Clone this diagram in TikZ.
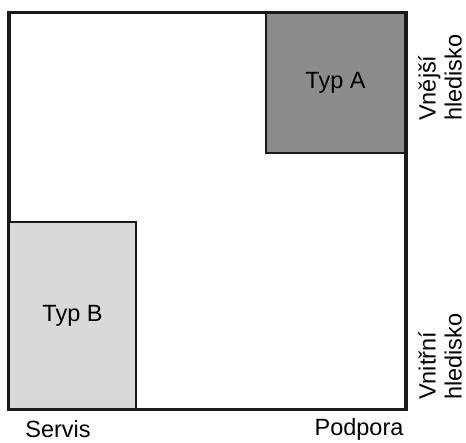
\documentclass[tikz,border=0pt]{standalone}
\usepackage{fontspec}
\setmainfont{Liberation Sans}
\usepackage{xcolor}
\usetikzlibrary{positioning}
\definecolor{typAgrey}{HTML}{8C8C8C}
\definecolor{typBgrey}{HTML}{D9D9D9}
\definecolor{frameline}{HTML}{1A1A1A}

\begin{document}
\begin{tikzpicture}[x=1pt, y=-1pt,
    every node/.style={font=\fontsize{23.5}{26}\selectfont, inner sep=0pt},
    typbox/.style={draw=frameline, line width=2.2pt, rectangle, anchor=center}
]
\useasboundingbox (0,0) rectangle (466,443);
% ---- frame ----
\node[typbox, minimum width=396pt, minimum height=396pt] (frame) at (207.5,211) {};
% ---- types ----
\node[typbox, fill=typAgrey, minimum width=139pt, minimum height=140pt] (typA) at (335.5,83) {Typ A};
\node[typbox, fill=typBgrey, minimum width=127pt, minimum height=187pt] (typB) at (72.5,315.5) {Typ B};
\draw[frameline, line width=2.2pt] (frame.north west) rectangle (frame.south east);

% ---- axis labels ----
\node[anchor=base] (servis) at (58,438) {Servis};
\node[anchor=base] (podpora) at (359,436) {Podpora};
\node[rotate=90, anchor=west, align=left] (vnejsi) at (440,121) {Vnější\\hledisko};
\node[rotate=90, anchor=west, align=left] (vnitrni) at (440,400) {Vnitřní\\hledisko};
\end{tikzpicture}
\end{document}
